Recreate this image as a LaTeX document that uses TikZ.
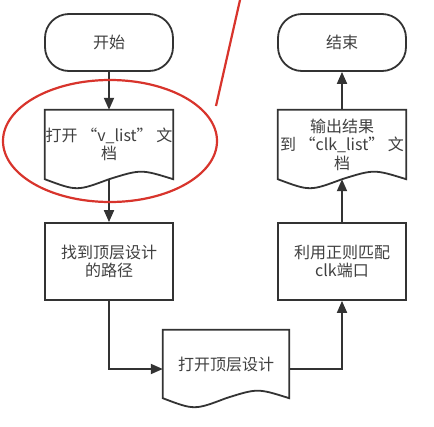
\documentclass[tikz,border=0pt]{standalone}
\usepackage{fontspec}
\newfontfamily\cjk{Noto Sans CJK SC}
\usetikzlibrary{arrows.meta,calc}
\definecolor{linegray}{HTML}{333333}
\definecolor{textgray}{HTML}{404040}
\definecolor{markred}{HTML}{D8342C}

\tikzset{
  flow/.style={line width=1.8pt, draw=linegray},
  term/.style={flow, rounded corners=24pt, minimum width=128pt, minimum height=57pt},
  proc/.style={flow, minimum width=128pt, minimum height=77pt},
  docbox/.style={minimum width=128pt, minimum height=69pt},
  arr/.style={flow, -{Triangle[length=12pt,width=10pt]}},
  every node/.style={font=\cjk\fontsize{16}{18.5}\selectfont, text=textgray, align=center, inner sep=0pt}
}

\begin{document}
\begin{tikzpicture}[x=1pt,y=-1pt]
\fill[white] (0,0) rectangle (434,426);
\useasboundingbox (0,0) rectangle (434,426);

\node[term] (start) at (109,42.5) {开始};
\node[term] (end) at (342,42.5) {结束};
\node[docbox] (doc1) at (109,144.5) {打开 “v\_list” 文\\档};
\node[docbox] (doc2) at (342,144.5) {输出结果\\到 “clk\_list” 文\\档};
\node[proc] (find) at (109,261.5) {找到顶层设计\\的路径};
\node[proc] (match) at (342,261.5) {利用正则匹配\\clk端口};
\node[docbox, minimum width=126pt, minimum height=68pt] (opendoc) at (226,364) {打开顶层设计};

% document outlines with the wavy bottom
\foreach \d in {doc1,doc2,opendoc}
  \draw[flow] (\d.south west) -- (\d.north west) -- (\d.north east) -- (\d.south east)
    .. controls ($(\d.south east)!0.25!(\d.south west)+(0,-10)$) .. (\d.south)
    .. controls ($(\d.south)!0.5!(\d.south west)+(0,12)$) .. (\d.south west) -- cycle;

\draw[arr] (start) -- (doc1);
\draw[arr] (doc1.south) -- (find);
\draw[arr] (find) |- ([yshift=-5pt]opendoc.west);
\draw[arr] ([yshift=-5pt]opendoc.east) -| (match);
\draw[arr] (match) -- (doc2.south);
\draw[arr] (doc2) -- (end);

% red marking
\draw[markred, line width=2.2pt] (110,141) ellipse [x radius=107pt, y radius=61pt];
\draw[markred, line width=2.2pt] (216,106) -- (240,0);
\end{tikzpicture}
\end{document}
